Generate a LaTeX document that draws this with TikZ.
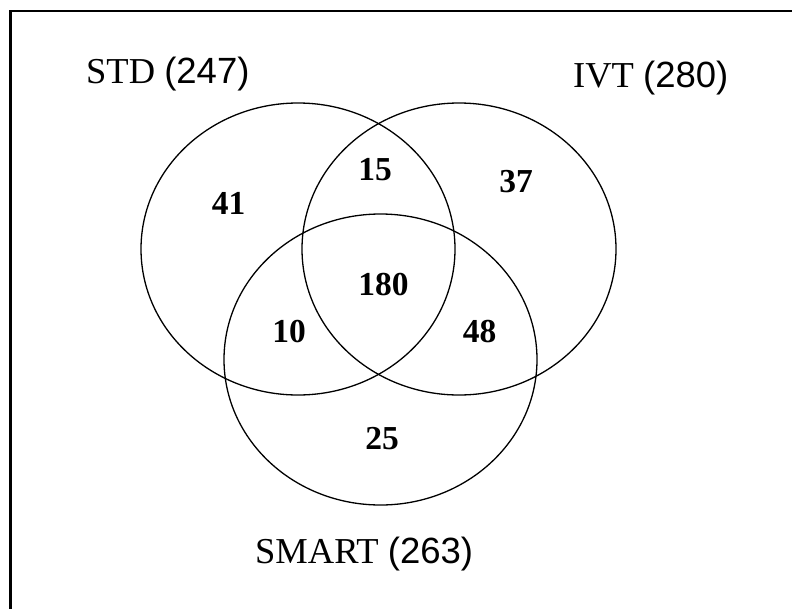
\documentclass[tikz,border=0pt]{standalone}
\usepackage{fontspec}
\setmainfont{Liberation Serif}
\newfontfamily\arialfont{Liberation Sans}
\usetikzlibrary{shapes.geometric}
\begin{document}
\begin{tikzpicture}[x=1pt,y=-1pt,
  setshape/.style={draw, ellipse, line width=1.3pt, inner sep=0pt},
  setlabel/.style={anchor=base west, inner sep=0pt, font=\fontsize{36.5}{42}\selectfont},
  count/.style={inner sep=0pt, font=\fontsize{33.5}{38}\selectfont\bfseries}]
\useasboundingbox (0,0) rectangle (792,608);
\coordinate (fbl) at (10.5,620);
\coordinate (ftl) at (10.5,11);
\coordinate (ftr) at (800,11);
\draw[line width=2.2pt] (fbl) -- (ftl) -- (ftr);
\node[setshape, minimum width=314pt, minimum height=292pt] (std) at (298,249) {};
\node[setshape, minimum width=314pt, minimum height=292pt] (ivt) at (459,249) {};
\node[setshape, minimum width=313pt, minimum height=291pt] (smart) at (380.5,359.5) {};
\node[setlabel] (stdlab) at (86,83) {STD {\arialfont(247)}};
\node[setlabel] (ivtlab) at (573,87) {IVT {\arialfont(280)}};
\node[setlabel] (smartlab) at (255,563) {SMART {\arialfont(263)}};
\node[count] (n41) at (228.5,203.5) {41};
\node[count] (n15) at (375,170) {15};
\node[count] (n37) at (516,181.5) {37};
\node[count] (n180) at (383.5,285) {180};
\node[count] (n10) at (289,332) {10};
\node[count] (n48) at (479.5,332) {48};
\node[count] (n25) at (382,438.5) {25};
\end{tikzpicture}
\end{document}
